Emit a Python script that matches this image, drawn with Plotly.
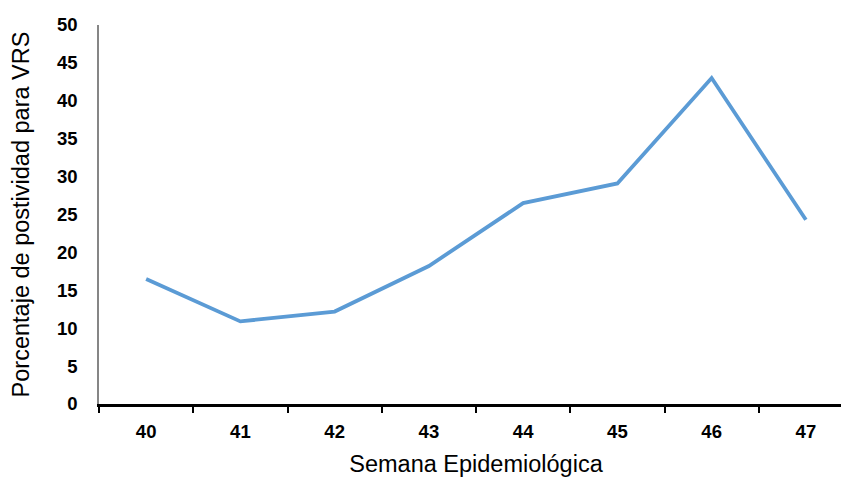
"""Porcentaje de positividad para VRS por semana epidemiológica"""
import plotly.graph_objects as go

semanas = ["40", "41", "42", "43", "44", "45", "46", "47"]
positividad = [16.5, 10.9, 12.2, 18.2, 26.5, 29.1, 43.0, 24.3]

FONT = "Liberation Sans"

fig = go.Figure()

fig.add_trace(
    go.Scatter(
        x=semanas,
        y=positividad,
        mode="lines",
        line={"color": "#5B9BD5", "width": 3.8},
        hoverinfo="x+y",
    )
)

# the page body has an 8px margin, so the margins are shifted to compensate
fig.update_layout(
    width=849,
    height=479,
    margin={"l": 91, "r": 4, "t": 17, "b": 83},
    paper_bgcolor="white",
    plot_bgcolor="white",
    showlegend=False,
    font={"family": FONT, "color": "#000000"},
)

fig.update_xaxes(
    type="category",
    range=[-0.5, 7.5],
    tickson="boundaries",
    ticks="outside",
    ticklen=6,
    tickwidth=2,
    tickcolor="#000000",
    showline=True,
    linecolor="#000000",
    linewidth=2.5,
    showgrid=False,
    tickfont={"family": FONT, "size": 18.5, "color": "#000000", "weight": "bold"},
    ticklabelstandoff=9,
    title={"text": "Semana Epidemiológica", "font": {"family": FONT, "size": 23.5}, "standoff": 15},
)

fig.update_yaxes(
    range=[0, 50],
    dtick=5,
    tick0=0,
    ticks="",
    showline=True,
    linecolor="#868686",
    linewidth=1.5,
    showgrid=False,
    zeroline=False,
    tickfont={"family": FONT, "size": 18.5, "color": "#000000", "weight": "bold"},
    ticklabelstandoff=16,
    title={"text": "Porcentaje de postividad para VRS", "font": {"family": FONT, "size": 23.5}, "standoff": 21},
)

fig.write_html("out.html")
